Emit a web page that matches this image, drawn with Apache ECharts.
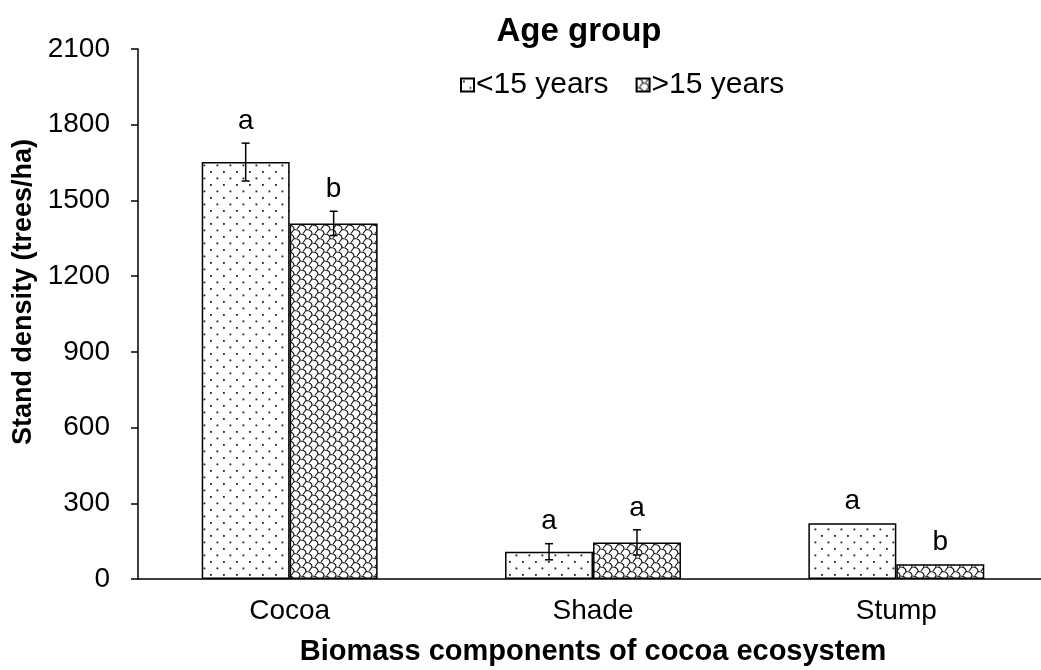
<!DOCTYPE html>
<html>
<head>
<meta charset="utf-8">
<script src="https://cdn.jsdelivr.net/npm/echarts@6/dist/echarts.min.js"></script>
<style>
html, body { margin: 0; padding: 0; background: #fff; }
#chart { width: 1041px; height: 670px; }
</style>
</head>
<body>
<div id="chart"></div>
<script>
// values
var categories = ['Cocoa', 'Shade', 'Stump'];
var seriesNames = ['<15 years', '>15 years'];
var young = [1652, 108, 221];
var old = [1409, 145, 58];
var youngErr = [75, 32, 0];
var oldErr = [48, 50, 0];
var youngLetters = ['a', 'a', 'a'];
var oldLetters = ['b', 'a', 'b'];

var FONT = '"Liberation Sans", Arial, sans-serif';
var GAP = 0.42;

// dotted fill
function dotPattern() {
    var c = document.createElement('canvas');
    c.width = 13; c.height = 13;
    var ctx = c.getContext('2d');
    ctx.fillStyle = '#fff';
    ctx.fillRect(0, 0, 13, 13);
    ctx.fillStyle = '#222';
    ctx.fillRect(2, 2, 1.8, 1.8);
    ctx.fillRect(8.5, 8.5, 1.8, 1.8);
    return c;
}
// shingle fill
function shinglePattern() {
    var W = 12, H = 9;
    var c = document.createElement('canvas');
    c.width = W; c.height = H;
    var ctx = c.getContext('2d');
    ctx.fillStyle = '#fff';
    ctx.fillRect(0, 0, W, H);
    ctx.strokeStyle = '#111';
    ctx.lineWidth = 1.1;
    ctx.beginPath();
    [[0, 0], [6, 4.5], [0, 9], [-6, 4.5], [6, -4.5]].forEach(function (p) {
        var x = p[0], y = p[1];
        ctx.moveTo(x, y);
        ctx.quadraticCurveTo(x + 6, y, x + 6, y + 4.5);
        ctx.moveTo(x + 6, y + 4.5);
        ctx.lineTo(x + 3, y + 8.5);
    });
    ctx.stroke();
    return c;
}

var errData = [];
categories.forEach(function (c, i) {
    errData.push([i, young[i], youngErr[i], 0]);
    errData.push([i, old[i], oldErr[i], 1]);
});

var chart = echarts.init(document.getElementById('chart'));
chart.setOption({
    backgroundColor: '#fff',
    animation: false,
    title: {
        text: 'Age group',
        left: 574, top: 10,
        textAlign: 'center',
        textStyle: { fontFamily: FONT, fontSize: 33, fontWeight: 'bold', color: '#000' }
    },
    legend: {
        data: seriesNames,
        left: 455, top: 65,
        itemWidth: 13, itemHeight: 13,
        itemGap: 27,
        icon: 'rect',
        textStyle: { fontFamily: FONT, fontSize: 30, color: '#000', padding: [0, 0, 0, -3] }
    },
    grid: { left: 138, top: 49, width: 910, height: 530, outerBoundsMode: 'none' },
    xAxis: {
        type: 'category',
        data: categories,
        name: 'Biomass components of cocoa ecosystem',
        nameLocation: 'middle',
        nameGap: 58,
        nameTextStyle: { fontFamily: FONT, fontSize: 29, fontWeight: 'bold', color: '#000' },
        axisLine: { lineStyle: { color: '#000', width: 1.5 } },
        axisTick: { length: 8, lineStyle: { color: '#000', width: 1.5 } },
        axisLabel: { fontFamily: FONT, fontSize: 28, color: '#000', margin: 18 }
    },
    yAxis: {
        type: 'value',
        min: 0, max: 2100, interval: 300,
        name: 'Stand density (trees/ha)',
        nameLocation: 'middle',
        nameGap: 101,
        nameTextStyle: { fontFamily: FONT, fontSize: 27, fontWeight: 'bold', color: '#000', padding: [0, 0, 0, 44] },
        axisLine: { show: true, lineStyle: { color: '#000', width: 1.5 } },
        axisTick: { show: true, length: 7, lineStyle: { color: '#000', width: 1.5 } },
        axisLabel: {
            fontFamily: FONT, fontSize: 28, color: '#000', margin: 28,
            formatter: function (v) { return String(v); }
        },
        splitLine: { show: false }
    },
    series: [
        {
            name: seriesNames[0],
            type: 'bar',
            data: young,
            barGap: '0%',
            barCategoryGap: (GAP * 100) + '%',
            itemStyle: { color: { image: dotPattern(), repeat: 'repeat' }, borderColor: '#000', borderWidth: 1.5 }
        },
        {
            name: seriesNames[1],
            type: 'bar',
            data: old,
            barGap: '0%',
            barCategoryGap: (GAP * 100) + '%',
            itemStyle: { color: { image: shinglePattern(), repeat: 'repeat' }, borderColor: '#000', borderWidth: 1.5 }
        },
        {
            type: 'custom',
            data: errData,
            z: 10,
            renderItem: function (params, api) {
                var cat = api.value(0), val = api.value(1), err = api.value(2), s = api.value(3);
                var band = api.size([1, 0])[0];
                var bw = band * (1 - GAP) / 2;
                var off = s === 0 ? -bw / 2 : bw / 2;
                var top = api.coord([cat, val + err]);
                var bot = api.coord([cat, val - err]);
                var x = top[0] + off;
                var letter = s === 0 ? youngLetters[cat] : oldLetters[cat];
                var st = { stroke: '#000', lineWidth: 1.5 };
                var kids = [];
                if (err > 0) {
                    kids.push({ type: 'line', shape: { x1: x, y1: top[1], x2: x, y2: bot[1] }, style: st });
                    kids.push({ type: 'line', shape: { x1: x - 4, y1: top[1], x2: x + 4, y2: top[1] }, style: st });
                    kids.push({ type: 'line', shape: { x1: x - 4, y1: bot[1], x2: x + 4, y2: bot[1] }, style: st });
                }
                kids.push({
                    type: 'text',
                    style: {
                        text: letter, x: x, y: top[1] - 22,
                        textAlign: 'center', textVerticalAlign: 'middle',
                        font: '28px ' + FONT, fill: '#000'
                    }
                });
                return { type: 'group', children: kids };
            }
        }
    ]
});
</script>
</body>
</html>
